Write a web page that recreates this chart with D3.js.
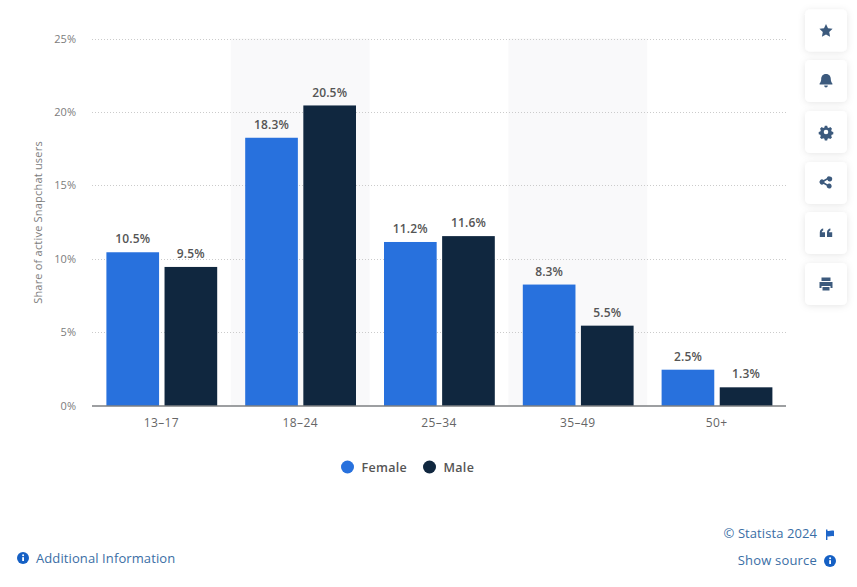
<!DOCTYPE html>
<html>
<head>
<meta charset="utf-8">
<script src="https://cdn.jsdelivr.net/npm/d3@7"></script>
<style>
  html, body { margin: 0; padding: 0; background: #fff; }
  svg { display: block; font-family: "Open Sans", sans-serif; }
</style>
</head>
<body>
<div id="chart"></div>
<script>
// chart data
const ageGroups = ["13–17", "18–24", "25–34", "35–49", "50+"];
const seriesNames = ["Female", "Male"];
const femaleValues = [10.5, 18.3, 11.2, 8.3, 2.5];
const maleValues = [9.5, 20.5, 11.6, 5.5, 1.3];
const yTicks = [0, 5, 10, 15, 20, 25];
const seriesColors = ["#2871dd", "#10273f"];

const width = 857, height = 587;
const plotLeft = 92, plotRight = 786, plotTop = 38.5, plotBottom = 405.5;
const barShift = 0.9; // bars sit slightly under the grid in the picture

const svg = d3.select("#chart").append("svg")
    .attr("width", width)
    .attr("height", height);

const x = d3.scaleBand().domain(ageGroups).range([plotLeft, plotRight]);
const xInner = d3.scaleBand().domain(seriesNames).range([14.4, x.bandwidth() - 13.6]).paddingInner(0.094);
const y = d3.scaleLinear().domain([0, 25]).range([plotBottom, plotTop]);

// shaded columns behind every second group
svg.append("g").selectAll("rect")
    .data(ageGroups.filter((d, i) => i % 2 == 1))
    .enter().append("rect")
    .attr("x", d => x(d))
    .attr("y", plotTop)
    .attr("width", x.bandwidth())
    .attr("height", plotBottom - plotTop)
    .attr("fill", "#f9f9fa");

// grid lines
svg.append("g").selectAll("line")
    .data(yTicks.filter(d => d > 0))
    .enter().append("line")
    .attr("x1", plotLeft)
    .attr("x2", plotRight)
    .attr("y1", d => Math.round(y(d)) + 0.5)
    .attr("y2", d => Math.round(y(d)) + 0.5)
    .attr("stroke", "#cbcbcb")
    .attr("stroke-width", 1)
    .attr("stroke-dasharray", "1 2");

// y tick labels
svg.append("g").selectAll("text")
    .data(yTicks)
    .enter().append("text")
    .attr("x", 76)
    .attr("y", d => y(d) + 4)
    .attr("text-anchor", "end")
    .attr("font-size", 11)
    .attr("fill", "#7c7c7c")
    .text(d => d + "%");

svg.append("text")
    .attr("transform", `translate(42,${(plotTop + plotBottom) / 2 + 0.5}) rotate(-90)`)
    .attr("text-anchor", "middle")
    .attr("font-size", 11)
    .attr("letter-spacing", 0.2)
    .attr("fill", "#7c7c7c")
    .text("Share of active Snapchat users");

// bars and value labels
const valuesBySeries = [femaleValues, maleValues];
seriesNames.forEach((name, s) => {
    const bars = svg.append("g");
    bars.selectAll("rect")
        .data(valuesBySeries[s])
        .enter().append("rect")
        .attr("x", (d, i) => x(ageGroups[i]) + xInner(name))
        .attr("y", d => y(d) + barShift)
        .attr("width", xInner.bandwidth())
        .attr("height", d => y(0) - y(d) - barShift)
        .attr("fill", seriesColors[s]);
    bars.selectAll("text")
        .data(valuesBySeries[s])
        .enter().append("text")
        .attr("x", (d, i) => x(ageGroups[i]) + xInner(name) + xInner.bandwidth() / 2)
        .attr("y", d => y(d) - 8)
        .attr("text-anchor", "middle")
        .attr("font-size", 12)
        .attr("font-weight", 600)
        .attr("letter-spacing", 0.15)
        .attr("fill", "#555")
        .text(d => d.toFixed(1) + "%");
});

// x axis
svg.append("line")
    .attr("x1", plotLeft)
    .attr("x2", plotRight)
    .attr("y1", plotBottom + 0.5)
    .attr("y2", plotBottom + 0.5)
    .attr("stroke", "#3c4045")
    .attr("stroke-width", 1.2);

svg.append("g").selectAll("text")
    .data(ageGroups)
    .enter().append("text")
    .attr("x", d => x(d) + x.bandwidth() / 2)
    .attr("y", 427)
    .attr("text-anchor", "middle")
    .attr("font-size", 12)
    .attr("letter-spacing", 0.4)
    .attr("fill", "#666")
    .text(d => d);

// legend
const legendX = [347.5, 429.5];
const legend = svg.append("g").selectAll("g")
    .data(seriesNames)
    .enter().append("g")
    .attr("transform", (d, i) => `translate(${legendX[i]},467)`);
legend.append("circle")
    .attr("r", 6.5)
    .attr("fill", (d, i) => seriesColors[i]);
legend.append("text")
    .attr("x", 14)
    .attr("y", 4.5)
    .attr("font-size", 12.5)
    .attr("font-weight", 600)
    .attr("letter-spacing", 0.3)
    .attr("fill", "#555")
    .text(d => d);

// footer links
const linkColor = "#3a6ea5";
svg.append("text").attr("x", 817).attr("y", 538).attr("text-anchor", "end")
    .attr("font-size", 13).attr("letter-spacing", 0.08).attr("fill", linkColor).text("© Statista 2024");
svg.append("text").attr("x", 817).attr("y", 565).attr("text-anchor", "end")
    .attr("font-size", 13).attr("letter-spacing", 0.18).attr("fill", linkColor).text("Show source");
svg.append("text").attr("x", 36).attr("y", 563)
    .attr("font-size", 13).attr("letter-spacing", 0.1).attr("fill", linkColor).text("Additional Information");

svg.append("path")
    .attr("d", "M826 529.5h1.4v1.2c2 .8 3.4-.8 6.6 0v5.6c-3.2-.8-4.6.8-6.6 0v3.7H826z")
    .attr("fill", "#1f66c9");

function infoIcon(cx, cy) {
    svg.append("circle").attr("cx", cx).attr("cy", cy).attr("r", 6).attr("fill", "#1560c4");
    svg.append("rect").attr("x", cx - 0.8).attr("y", cy - 0.8).attr("width", 1.8).attr("height", 3.8).attr("fill", "#fff");
    svg.append("circle").attr("cx", cx + 0.1).attr("cy", cy - 2.8).attr("r", 1).attr("fill", "#fff");
}
infoIcon(830, 561);
infoIcon(23, 558);

// side buttons
const defs = svg.append("defs");
const shadow = defs.append("filter").attr("id", "shadow")
    .attr("x", "-30%").attr("y", "-30%").attr("width", "160%").attr("height", "160%");
shadow.append("feDropShadow")
    .attr("dx", 0).attr("dy", 1).attr("stdDeviation", 3.5)
    .attr("flood-color", "#000").attr("flood-opacity", 0.1);

const buttonTops = [9.5, 60, 111, 162, 212, 263];
const iconColor = "#3c5a7d";
const iconPaths = [
    // star
    "M0-6.6l2 4.3 4.6.6-3.4 3.2.9 4.7L0 3.9-4.1 6.2l.9-4.7-3.4-3.2 4.6-.6z",
    // bell
    "M0-7c3.4 0 4.8 2.6 4.8 5.2 0 2 .8 3.2 1.6 4.2v1.2H-6.4V2.4c.8-1 1.6-2.2 1.6-4.2C-4.8-4.4-3.4-7 0-7zM-1.8 4.6h3.6c0 1.2-.8 2-1.8 2s-1.8-.8-1.8-2z",
    // gear
    "M-1.2-6.2h2.4l.4 1.6 1.2.5 1.5-.8 1.7 1.7-.8 1.5.5 1.2 1.6.4v2.4l-1.6.4-.5 1.2.8 1.5-1.7 1.7-1.5-.8-1.2.5-.4 1.6h-2.4l-.4-1.6-1.2-.5-1.5.8-1.7-1.7.8-1.5-.5-1.2-1.6-.4v-2.4l1.6-.4.5-1.2-.8-1.5 1.7-1.7 1.5.8 1.2-.5zM0-2.3a2.3 2.3 0 1 0 0 4.6 2.3 2.3 0 0 0 0-4.6z",
    // share
    "M3.8-6.5a2.5 2.5 0 1 1-2.4 3.2l-3 1.7a2.6 2.6 0 0 1 0 1.2l3 1.7a2.5 2.5 0 1 1-.7 1.4l-3.1-1.8a2.5 2.5 0 1 1 0-3.8l3.1-1.8a2.5 2.5 0 0 1 3.1-1.8z",
    // quotes
    "M-6.2 4V-.5C-6.2-2.8-4.6-4.2-2.8-4.4V-2.6C-3.7-2.4-4.2-1.6-4.2-.8H-1V4zM1 4V-.5C1-2.8 2.6-4.2 4.4-4.4V-2.6C3.5-2.4 3-1.6 3-.8H6.2V4z",
    // print
    "M-4.5-6.5h9v3.5h-9zM-6.5-2h13v6H4.5V2h-9v2h-2zM-3.5 3h7v3.5h-7z"
];
const buttons = svg.append("g").selectAll("g")
    .data(buttonTops)
    .enter().append("g")
    .attr("transform", d => `translate(805,${d})`);
buttons.append("rect")
    .attr("width", 42)
    .attr("height", 42)
    .attr("rx", 5)
    .attr("fill", "#fff")
    .attr("filter", "url(#shadow)");
buttons.append("path")
    .attr("transform", "translate(21,21)")
    .attr("fill-rule", "evenodd")
    .attr("fill", iconColor)
    .attr("d", (d, i) => iconPaths[i]);
</script>
</body>
</html>
